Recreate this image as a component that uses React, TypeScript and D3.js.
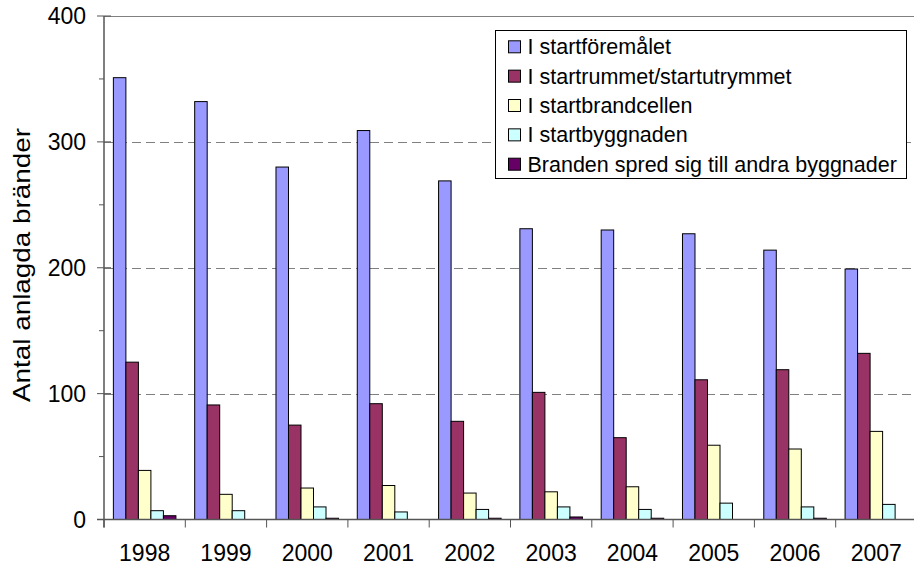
import React from "react";
import * as d3 from "d3";

const years = ["1998", "1999", "2000", "2001", "2002", "2003", "2004", "2005", "2006", "2007"];
const seriesNames = [
  "I startföremålet",
  "I startrummet/startutrymmet",
  "I startbrandcellen",
  "I startbyggnaden",
  "Branden spred sig till andra byggnader",
];
const startforemalet = [351, 332, 280, 309, 269, 231, 230, 227, 214, 199];
const startrummet = [125, 91, 75, 92, 78, 101, 65, 111, 119, 132];
const startbrandcellen = [39, 20, 25, 27, 21, 22, 26, 59, 56, 70];
const startbyggnaden = [7, 7, 10, 6, 8, 10, 8, 13, 10, 12];
const spredAndra = [3, 0, 1, 0, 1, 2, 1, 0, 1, 0];
const yTicks = [0, 100, 200, 300, 400];
const yMinorTicks = [50, 150, 250, 350];
const colors = ["#9999FF", "#993366", "#FFFFCC", "#CCFFFF", "#660066"];

const allSeries = [startforemalet, startrummet, startbrandcellen, startbyggnaden, spredAndra];

const W = 914;
const H = 566;
const FONT = "'Liberation Sans', Arial, sans-serif";

export default function App() {
  const x0 = 104;
  const x1 = 917;
  const yBottom = 519.5;
  const yTop = 16;
  const x = d3.scaleBand<string>().domain(years).range([x0, x1]).paddingInner(0).paddingOuter(0);
  const y = d3.scaleLinear().domain([0, 400]).range([yBottom, yTop]);
  const bw = x.bandwidth() / 6.5;
  const inner = d3
    .scaleBand<number>()
    .domain(d3.range(5))
    .range([0.75 * bw, 5.75 * bw])
    .padding(0);

  return (
    <svg width={W} height={H} style={{ position: "absolute", left: 0, top: 0, background: "#fff" }}>
      {/* gridlines */}
      {yTicks.slice(1).map((t) => (
        <line
          key={"g" + t}
          x1={x0}
          x2={W}
          y1={Math.round(y(t)) + 0.5}
          y2={Math.round(y(t)) + 0.5}
          stroke="#808080"
          strokeWidth={1}
          strokeDasharray={t === 400 ? undefined : "9,5"}
        />
      ))}
      {/* bars */}
      {allSeries.map((vals, si) =>
        vals.map((v, i) => {
          const bx = (x(years[i]) as number) + (inner(si) as number);
          const by = y(v);
          return (
            <rect
              key={si + "-" + i}
              x={bx}
              y={by}
              width={inner.bandwidth()}
              height={Math.max(0, yBottom - by)}
              fill={colors[si]}
              stroke="#000"
              strokeWidth={1}
            />
          );
        })
      )}
      {/* y axis */}
      <line x1={x0} x2={x0} y1={yTop} y2={yBottom + 8} stroke="#555" strokeWidth={1.5} />
      {yTicks.map((t) => (
        <g key={"yt" + t}>
          <line x1={97} x2={t === 0 ? x0 : 111} y1={y(t)} y2={y(t)} stroke="#555" strokeWidth={1} />
          <text
            x={86}
            y={y(t)}
            dy="0.35em"
            textAnchor="end"
            fontFamily={FONT}
            fontSize={23}
            fill="#000"
          >
            {t}
          </text>
        </g>
      ))}
      {yMinorTicks.map((t) => (
        <line key={"ym" + t} x1={99} x2={x0} y1={y(t)} y2={y(t)} stroke="#555" strokeWidth={1} />
      ))}
      {/* x axis */}
      <line x1={97} x2={W} y1={yBottom} y2={yBottom} stroke="#555" strokeWidth={1.5} />
      {years.map((yr) => (
        <g key={"xt" + yr}>
          <line
            x1={x(yr) as number}
            x2={x(yr) as number}
            y1={yBottom}
            y2={yBottom + 8}
            stroke="#555"
            strokeWidth={1}
          />
          <text
            x={(x(yr) as number) + x.bandwidth() / 2}
            y={561}
            textAnchor="middle"
            fontFamily={FONT}
            fontSize={23}
            fill="#000"
          >
            {yr}
          </text>
        </g>
      ))}
      {/* y title */}
      <text
        transform={`translate(30, 265) rotate(-90)`}
        textAnchor="middle"
        fontFamily={FONT}
        fontSize={24}
        textLength={274}
        lengthAdjust="spacingAndGlyphs"
        fill="#000"
      >
        Antal anlagda bränder
      </text>
      {/* legend */}
      <rect x={495.5} y={30.5} width={411} height={148} fill="#fff" stroke="#000" strokeWidth={1} />
      {seriesNames.map((name, i) => {
        const base = 54.3 + i * 29.35;
        return (
          <g key={"lg" + i}>
            <rect x={508.5} y={base - 13.5} width={12} height={12} fill={colors[i]} stroke="#000" strokeWidth={1} />
            <text x={527.5} y={base} fontFamily={FONT} fontSize={21.5} fill="#000">
              {name}
            </text>
          </g>
        );
      })}
    </svg>
  );
}
